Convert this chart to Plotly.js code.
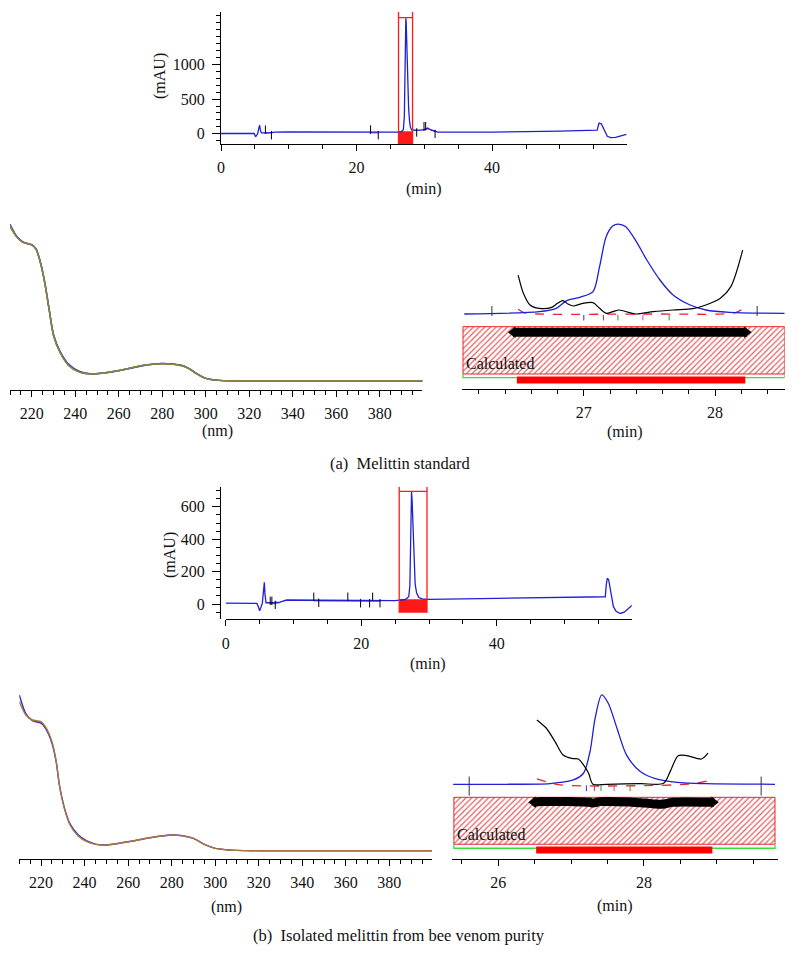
<!DOCTYPE html>
<html>
<head>
<meta charset="utf-8">
<script src="https://cdn.plot.ly/plotly-3.0.1.min.js"></script>
<style>html,body{margin:0;padding:0;background:#fff;}#chart{width:798px;height:969px;}</style>
</head>
<body>
<div id="chart"></div>
<script>
// ---------- (a) Melittin standard : chromatogram ----------
const chromA_time = [0, 4.9, 5.1, 5.4, 5.6, 5.7, 5.8, 5.95, 7, 8, 10, 15, 22, 26, 26.6, 26.9, 27.05, 27.12, 27.17, 27.22, 27.27, 27.32, 27.4, 27.48, 27.58, 27.68, 27.81, 27.93, 28.1, 28.5, 29.5, 30, 30.5, 31, 32, 40, 50, 55.5, 55.7, 55.8, 56.1, 56.3, 56.6, 57.0, 57.5, 58.2, 59, 59.8];
const chromA_mAU  = [5, 5, -43, 0, 90, 123, 60, 14, 14, 24, 28, 26, 19, 24, 30, 60, 250, 750, 1300, 1610, 1663, 1610, 1340, 1000, 640, 370, 190, 100, 60, 52, 55, 62, 85, 52, 24, 24, 38, 52, 130, 156, 145, 100, 28, -35, -55, -52, -30, -9];
const chromA_yTicks = [0, 500, 1000];
const chromA_markUp_t   = [6.55, 22.07, 29.95, 30.2];
const chromA_markUp_y   = [60, 62, 110, 110];
const chromA_markDown_t = [7.44, 23.2, 28.87, 31.58];
const chromA_markDown_y = [-20, -18, 20, 0];
const chromA_pink_t = [6.4, 7.0, 7.6, null, 21.9, 22.6, 23.3, null, 29.8, 30.5, 31.7];
const chromA_pink_y = [12, 10, 14, null, 15, 12, 14, null, 50, 70, 40];
const chromA_window = [26.19, 28.26];       // red integration box (min)

// ---------- (a) UV spectra ----------
const specA_nm     = [210, 213, 216, 220, 222, 224, 226, 228, 230, 233, 237, 242, 247, 256, 264, 271, 280, 289, 292, 296, 300, 306, 313, 400];
const specA_blue   = [1565, 1448, 1386, 1360, 1318, 1186, 982, 716, 462, 294, 164, 92, 69, 85, 118, 150, 173, 153, 126, 69, 24, 3, 0, 0];
const specA_purple = [1560, 1444, 1385, 1358, 1316, 1182, 978, 712, 456, 288, 158, 88, 68, 86, 119, 152, 172, 152, 124, 68, 23, 3, 0, 0];
const specA_green  = [1540, 1438, 1383, 1357, 1314, 1178, 975, 709, 452, 284, 153, 85, 67, 87, 120, 153, 170, 150, 123, 67, 23, 3, 0, 0];
const specA_olive  = [1550, 1440, 1383, 1357, 1313, 1175, 973, 707, 450, 280, 150, 83, 67, 87, 120, 153, 170, 150, 123, 67, 23, 3, 0, 0];

// ---------- (a) peak purity zoom ----------
const zoomA_t      = [26.09, 26.66, 26.79, 26.87, 26.97, 27.07, 27.12, 27.17, 27.22, 27.26, 27.32, 27.4, 27.48, 27.58, 27.68, 27.81, 27.93, 28.11, 28.53];
const zoomA_signal = [25, 67, 128, 268, 329, 432, 887, 1433, 1627, 1663, 1615, 1342, 1008, 644, 371, 189, 98, 55, 37];
const zoomA_pur_t  = [26.5, 26.54, 26.59, 26.66, 26.75, 26.8, 26.84, 26.88, 26.92, 26.99, 27.07, 27.12, 27.17, 27.22, 27.27, 27.35, 27.4, 27.53, 27.68, 27.83, 27.93, 28.04, 28.12, 28.21];
const zoomA_purity = [735, 401, 189, 128, 140, 219, 268, 207, 171, 219, 231, 128, 37, 67, 98, 49, 25, 67, 98, 122, 189, 310, 523, 1190];
const zoomA_thr_t  = [26.5, 26.55, 26.65, 27.5, 28.1, 28.16, 28.2];
const zoomA_thr    = [110, 45, 25, 25, 30, 55, 100];
const zoomA_spec_t = [27.0, 27.15, 27.26, 27.45, 27.65];
const zoomA_bar_t  = [26.46, 26.52, 27.4, 28.2, 28.24];
const zoomA_bar_y  = [-309, -309, -309, -309, -309];
const zoomA_int    = [26.49, 28.23];
const zoomA_limits = [26.30, 28.32];

// ---------- (b) Isolated melittin : chromatogram ----------
const chromB_time = [0, 4.6, 4.85, 5.0, 5.2, 5.4, 5.6, 5.7, 5.8, 5.95, 7, 8, 9, 20, 25, 26.5, 27.0, 27.17, 27.26, 27.33, 27.42, 27.51, 27.63, 27.76, 27.95, 28.17, 28.5, 29, 30, 40, 50, 56.0, 56.15, 56.3, 56.5, 56.7, 57.0, 57.2, 57.6, 58.2, 58.8, 59.5, 60];
const chromB_mAU  = [6, 4, -20, -41, -20, 4, 90, 134, 60, 8, 8, 12, 25, 25, 21, 28, 45, 110, 272, 520, 693, 631, 445, 247, 123, 68, 40, 32, 29, 35, 42, 45, 120, 159, 150, 100, 20, -16, -45, -58, -50, -25, -6];
const chromB_yTicks = [0, 200, 400, 600];
const chromB_markUp_t   = [6.57, 6.81, 12.99, 18.02, 21.68];
const chromB_markUp_y   = [20, 20, 45, 45, 45];
const chromB_markDown_t = [7.31, 13.73, 19.9, 21.23, 22.77];
const chromB_markDown_y = [-5, 8, 5, 5, 5];
const chromB_pink_t = [6.5, 7.2, 8.0, null, 13.0, 17, 22.8];
const chromB_pink_y = [4, 2, 8, null, 20, 18, 16];
const chromB_window = [25.6, 29.7];

// ---------- (b) UV spectra ----------
const specB_nm    = [210, 213, 216, 220, 222, 225, 227, 228.4, 230.7, 233.3, 237, 241, 245, 250, 260, 270, 280, 285, 290, 295, 300, 305, 310, 320, 400];
const specB_blue  = [1557, 1370, 1300, 1275, 1225, 1075, 880, 660, 430, 268, 160, 98, 66, 57, 90, 130, 157, 150, 123, 63, 23, 10, 3, 0, 0];
const specB_brown = [1490, 1357, 1307, 1290, 1240, 1090, 890, 657, 423, 257, 147, 90, 63, 57, 90, 130, 157, 150, 123, 63, 23, 10, 3, 0, 0];

// ---------- (b) peak purity zoom ----------
const zoomB_t      = [25.38, 26.11, 26.71, 27.03, 27.17, 27.26, 27.33, 27.42, 27.51, 27.63, 27.76, 27.95, 28.17, 28.5, 28.86, 29.8];
const zoomB_signal = [28, 28, 33, 60, 110, 272, 520, 693, 631, 445, 247, 123, 68, 40, 33, 28];
const zoomB_pur_t  = [26.53, 26.66, 26.78, 26.89, 27.01, 27.1, 27.17, 27.24, 27.3, 27.49, 27.95, 28.27, 28.36, 28.47, 28.59, 28.79, 28.88];
const zoomB_purity = [507, 445, 345, 246, 221, 216, 172, 110, 28, 28, 33, 35, 122, 241, 241, 216, 259];
const zoomB_thr_t  = [26.53, 26.7, 26.85, 28.4, 28.7, 28.88];
const zoomB_thr    = [68, 40, 23, 23, 35, 53];
const zoomB_spec_t = [27.21, 27.32, 27.41, 27.59, 27.81];
const zoomB_bar_t  = [26.48, 26.6, 27.0, 27.25, 27.3, 27.4, 27.8, 28.1, 28.25, 28.4, 28.9, 28.96];
const zoomB_bar_y  = [-106, -101, -101, -106, -112, -101, -104, -116, -121, -106, -106, -106];
const zoomB_int    = [26.52, 28.94];
const zoomB_limits = [25.6, 29.61];

// ---------- styling ----------
const FONT = 'Liberation Serif, Times New Roman, serif';
const BLUE = '#1f1fd6';
const W = 798, H = 969;
const px = v => v / W, py = v => 1 - v / H;

function xAx(dom, range, dtick, minor, extra) {
  return Object.assign({
    domain: [px(dom[0]), px(dom[1])], range: range, tick0: 0, dtick: dtick,
    ticks: 'outside', ticklen: 6, tickwidth: 1, tickcolor: '#000',
    minor: {tickmode: 'linear', tick0: 0, dtick: minor, ticks: 'outside', ticklen: 4, tickcolor: '#000', tickwidth: 1},
    showline: true, linecolor: '#000', linewidth: 1, showgrid: false, zeroline: false,
    tickfont: {family: FONT, size: 16, color: '#111'}, ticklabelstandoff: 3, fixedrange: true
  }, extra || {});
}
function yAx(dom, range, tickvals, minor, visible) {
  const ax = {
    domain: [py(dom[1]), py(dom[0])], range: range, visible: visible,
    ticks: 'outside', ticklen: 8, tickwidth: 1, tickcolor: '#000',
    minor: {tickmode: 'linear', tick0: 0, dtick: minor, ticks: 'outside', ticklen: 4, tickcolor: '#000', tickwidth: 1},
    showline: true, linecolor: '#000', linewidth: 1, showgrid: false, zeroline: false,
    tickfont: {family: FONT, size: 16, color: '#111'}, ticklabelstandoff: 4, fixedrange: true
  };
  if (tickvals) { ax.tickmode = 'array'; ax.tickvals = tickvals; }
  return ax;
}

const traces = [];
function line(xa, ya, x, y, color, width, extra) {
  traces.push(Object.assign({type: 'scatter', mode: 'lines', x: x, y: y, xaxis: xa, yaxis: ya,
    line: {color: color, width: width}, hoverinfo: 'skip'}, extra || {}));
}
function ticksMarks(xa, ya, x, y, color, size) {
  traces.push({type: 'scatter', mode: 'markers', x: x, y: y, xaxis: xa, yaxis: ya, hoverinfo: 'skip',
    marker: {symbol: 'line-ns', size: size, color: color, line: {color: color, width: 1}}});
}
function spline(xa, ya, x, y, color) {
  line(xa, ya, x, y, color, 1.4, {line: {color: color, width: 1.4, shape: 'spline', smoothing: 0.7}});
}

// panel 1
line('x', 'y', chromA_pink_t, chromA_pink_y, '#e23be2', 1.2);
line('x', 'y', chromA_time, chromA_mAU, BLUE, 1.3);
ticksMarks('x', 'y', chromA_markUp_t, chromA_markUp_y, '#000', 6);
ticksMarks('x', 'y', chromA_markDown_t, chromA_markDown_y, '#000', 6);

// panel 2
spline('x2', 'y2', specA_nm, specA_blue, '#2b2bc8');
spline('x2', 'y2', specA_nm, specA_purple, '#7d3c9c');
spline('x2', 'y2', specA_nm, specA_green, '#3f8f3f');
spline('x2', 'y2', specA_nm, specA_olive, '#8f8048');

// zoom panels builder
function zoomPanel(xa, ya, o) {
  const xr = o.rectX, yr = o.rectY;
  traces.push({type: 'scatter', mode: 'lines', xaxis: xa, yaxis: ya, hoverinfo: 'skip',
    x: [xr[0], xr[1], xr[1], xr[0], xr[0]], y: [yr[0], yr[0], yr[1], yr[1], yr[0]],
    fill: 'toself', fillcolor: 'rgba(255,255,255,0)',
    fillpattern: {shape: '/', fgcolor: '#e06060', bgcolor: '#ffffff', size: 4, solidity: 0.3},
    line: {color: '#e8262a', width: 1}});
  line(xa, ya, [xr[0], xr[0], xr[1], xr[1]], [yr[1], o.greenY, o.greenY, yr[1]], '#3ddc3d', 1.3);
  line(xa, ya, o.intT, [o.redY, o.redY], '#ff0000', 7);
  line(xa, ya, o.barT, o.barY, '#000', 9, {line: {color: '#000', width: 9, shape: 'spline'}});
  traces.push({type: 'scatter', mode: 'markers', xaxis: xa, yaxis: ya, hoverinfo: 'skip',
    x: [o.barT[0], o.barT[o.barT.length - 1]], y: [o.barY[0], o.barY[o.barY.length - 1]],
    marker: {symbol: ['triangle-left', 'triangle-right'], size: 10, color: '#000'}});
  line(xa, ya, o.thrT, o.thr, '#e8262a', 1.3, {line: {color: '#e8262a', width: 1.3, dash: 'dash', shape: 'spline'}});
  line(xa, ya, o.sigT, o.sig, BLUE, 1.3, {line: {color: BLUE, width: 1.3, shape: 'spline', smoothing: 0.8}});
  line(xa, ya, o.purT, o.pur, '#000', 1.2, {line: {color: '#000', width: 1.2, shape: 'spline', smoothing: 0.8}});
  const cols = ['#2b2bd6', '#e8262a', '#2c9a2c', '#d23cd2', '#2c9a2c'];
  traces.push({type: 'scatter', mode: 'markers', xaxis: xa, yaxis: ya, hoverinfo: 'skip',
    x: o.specT, y: o.specT.map(() => o.specY),
    marker: {symbol: 'line-ns', size: 4, color: cols, line: {width: 1, color: cols}}});
  line(xa, ya, [o.limits[0], o.limits[0], null, o.limits[1], o.limits[1]],
       [o.limY[0], o.limY[1], null, o.limY[0], o.limY[1]], '#333', 1);
}

zoomPanel('x3', 'y3', {rectX: [26.08, 28.53], rectY: [-206, -1068], greenY: -1134, redY: -1177,
  intT: zoomA_int, barT: zoomA_bar_t, barY: zoomA_bar_y, thrT: zoomA_thr_t, thr: zoomA_thr,
  sigT: zoomA_t, sig: zoomA_signal, purT: zoomA_pur_t, pur: zoomA_purity,
  specT: zoomA_spec_t, specY: -42, limits: zoomA_limits, limY: [171, -11]});

// panel 4
line('x4', 'y4', chromB_pink_t, chromB_pink_y, '#e23be2', 1.2);
line('x4', 'y4', chromB_time, chromB_mAU, BLUE, 1.3);
ticksMarks('x4', 'y4', chromB_markUp_t, chromB_markUp_y, '#000', 6);
ticksMarks('x4', 'y4', chromB_markDown_t, chromB_markDown_y, '#000', 6);

// panel 5
spline('x5', 'y5', specB_nm, specB_blue, '#2b2bc8');
spline('x5', 'y5', specB_nm, specB_brown, '#a8783e');

zoomPanel('x6', 'y6', {rectX: [25.39, 29.8], rectY: [-69, -418], greenY: -448, redY: -461,
  intT: zoomB_int, barT: zoomB_bar_t, barY: zoomB_bar_y, thrT: zoomB_thr_t, thr: zoomB_thr,
  sigT: zoomB_t, sig: zoomB_signal, purT: zoomB_pur_t, pur: zoomB_purity,
  specT: zoomB_spec_t, specY: -2, limits: zoomB_limits, limY: [85, -56]});

const RED = '#ff1a1a';
function redBox(xa, ya, win, yBot, yTop, yBar, fillTop) {
  return [
    {type: 'rect', xref: xa, yref: ya, x0: win[0], x1: win[1], y0: yBot, y1: fillTop, fillcolor: RED, line: {width: 0}, layer: 'below'},
    {type: 'line', xref: xa, yref: ya, x0: win[0], x1: win[0], y0: yBot, y1: yTop, line: {color: RED, width: 1.3}},
    {type: 'line', xref: xa, yref: ya, x0: win[1], x1: win[1], y0: yBot, y1: yTop, line: {color: RED, width: 1.3}},
    {type: 'line', xref: xa, yref: ya, x0: win[0], x1: win[1], y0: yBar, y1: yBar, line: {color: RED, width: 1.3}}
  ];
}

const shapes = [].concat(
  redBox('x', 'y', chromA_window, -146, 1757, 1672, 38),
  redBox('x4', 'y4', chromB_window, -54, 724, 695, 29)
);

function ann(text, x, y, size, extra) {
  return Object.assign({text: text, xref: 'paper', yref: 'paper', x: px(x), y: py(y), showarrow: false,
    xanchor: 'center', yanchor: 'middle', font: {family: FONT, size: size, color: '#111'}}, extra || {});
}
const annotations = [
  ann('(mAU)', 160, 76, 16, {textangle: -90}),
  ann('(min)', 424, 189, 16),
  ann('(nm)', 217, 431, 16),
  ann('(min)', 625, 432, 16),
  ann('(a)&#160;&#160;Melittin standard', 400, 463, 16.5),
  ann('(mAU)', 170, 555, 16, {textangle: -90}),
  ann('(min)', 428, 664, 16),
  ann('(nm)', 226, 907, 16),
  ann('(min)', 615, 906, 16),
  ann('(b)&#160;&#160;Isolated melittin from bee venom purity', 399, 935, 16.5),
  {text: 'Calculated', xref: 'x3', yref: 'y3', x: 26.09, y: -1075, xanchor: 'left', yanchor: 'bottom', showarrow: false,
   font: {family: FONT, size: 16, color: '#111'}},
  {text: 'Calculated', xref: 'x6', yref: 'y6', x: 25.40, y: -425, xanchor: 'left', yanchor: 'bottom', showarrow: false,
   font: {family: FONT, size: 16, color: '#111'}}
];

const layout = {
  width: W, height: H, margin: {l: 0, r: 0, t: 0, b: 0}, showlegend: false,
  paper_bgcolor: '#fff', plot_bgcolor: 'rgba(0,0,0,0)',
  xaxis:  xAx([221, 627], [0, 59.9], 20, 5, {anchor: 'y'}),
  yaxis:  yAx([11.7, 144], [-146, 1757], chromA_yTicks, 100, true),
  xaxis2: xAx([10, 422.3], [210, 399.5], 20, 5, {anchor: 'y2'}),
  yaxis2: yAx([220, 390], [-93, 1607], null, 100, false),
  xaxis3: xAx([461.7, 784.7], [26.07, 28.53], 1, 0.2, {anchor: 'y3'}),
  yaxis3: yAx([220, 389], [-1341, 1737], null, 100, false),
  xaxis4: xAx([225.7, 631.7], [0, 59.9], 20, 5, {anchor: 'y4'}),
  yaxis4: yAx([486.7, 619.3], [-94, 724], chromB_yTicks, 50, true),
  xaxis5: xAx([19.3, 431.8], [210, 399.5], 20, 5, {anchor: 'y5'}),
  yaxis5: yAx([690, 859], [-83, 1607], null, 100, false),
  xaxis6: xAx([451.7, 777.9], [25.36, 29.84], 2, 0.5, {anchor: 'y6'}),
  yaxis6: yAx([693.3, 859], [-528, 705], null, 100, false),
  shapes: shapes, annotations: annotations
};

Plotly.newPlot('chart', traces, layout, {staticPlot: true, displayModeBar: false});
</script>
</body>
</html>
